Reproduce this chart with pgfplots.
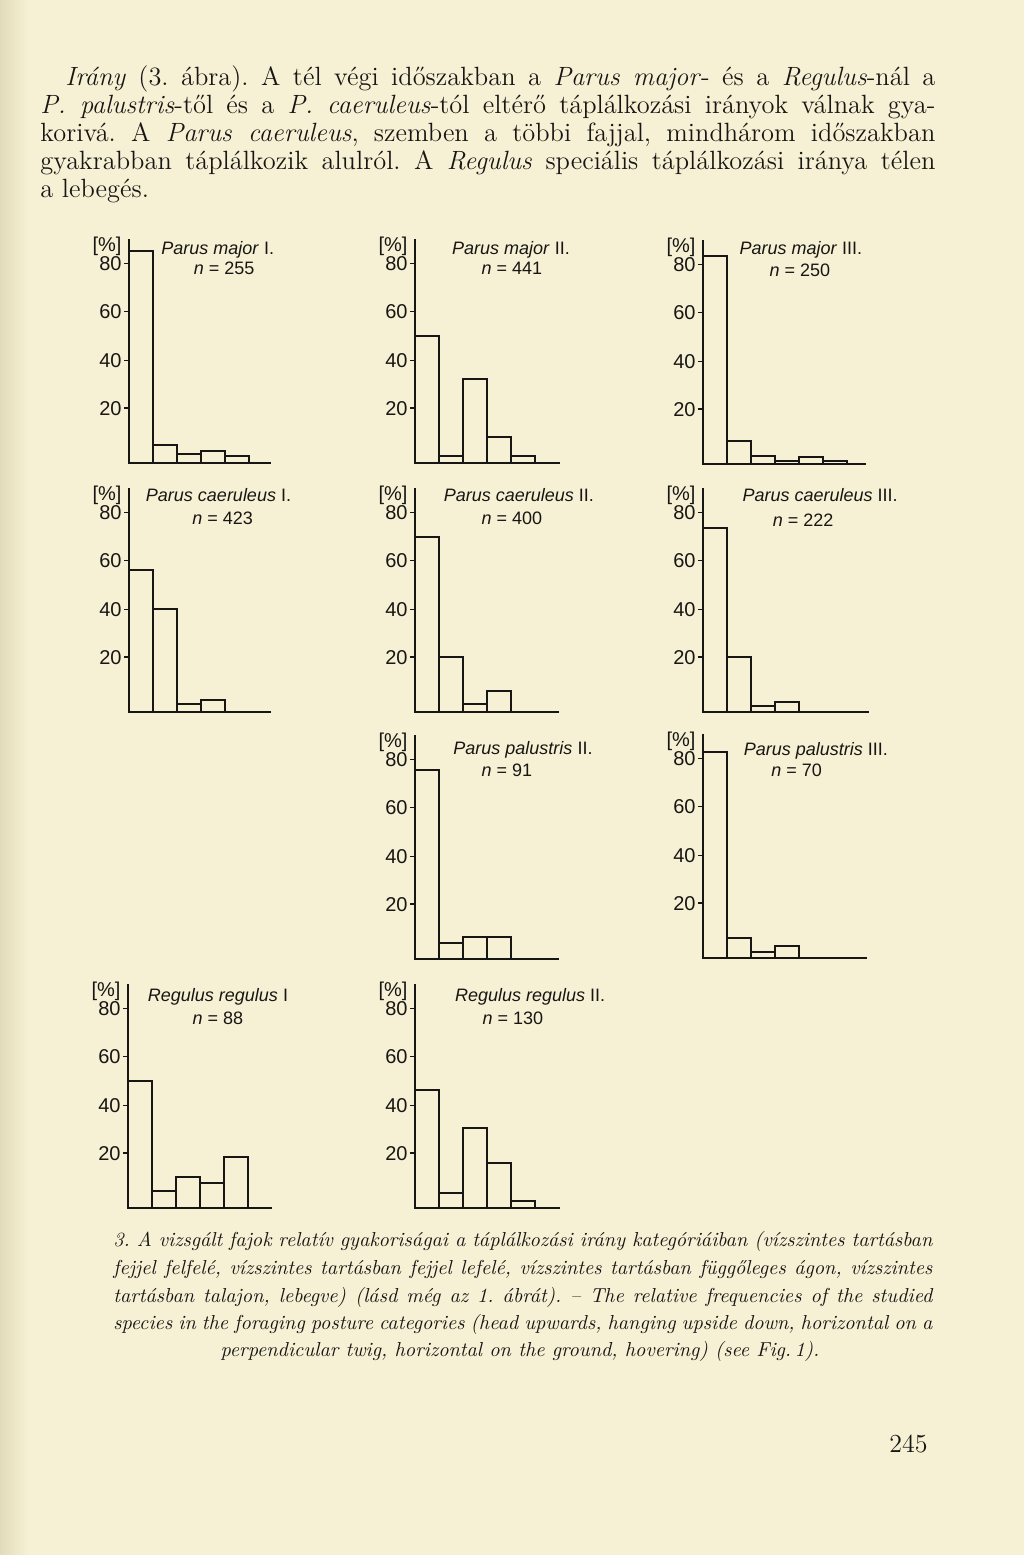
\documentclass[border=0pt]{standalone}
\usepackage{fontspec}
\usepackage{pgfplots}
\pgfplotsset{compat=1.18}
\newfontfamily\labfont{Liberation Sans}
\definecolor{paper}{RGB}{246,241,212}
\definecolor{paperdark}{RGB}{226,219,186}
\definecolor{ink}{RGB}{24,22,20}
\newcommand\lab{\labfont\fontsize{9}{10}\selectfont}
\newcommand\tlab{\labfont\fontsize{10}{11}\selectfont}
\newcommand\body{\fontsize{13.2}{15}\selectfont\addfontfeature{FakeBold=0.3}\frenchspacing}
\newcommand\capf{\fontsize{10.1}{12}\selectfont\itshape\addfontfeature{FakeBold=1.1}\frenchspacing}

\pgfplotsset{panel/.style={
  anchor=south west, x=12pt, y=1.1667pt,
  xmin=0, ymin=0, ymax=96,
  axis x line*=bottom, axis y line*=left,
  axis line style={line width=0.95pt, ink},
  xtick=\empty,
  ytick={23.5,44,65,85.5}, yticklabels={20,40,60,80},
  tick align=outside, major tick length=2.5pt,
  tick style={ink, line width=0.8pt},
  yticklabel style={font=\tlab, text=ink, inner sep=1pt},
  clip=false,
  ybar, bar width=1, bar shift=0pt,
},
bars/.style={draw=ink, fill=none, line width=0.95pt}}

\newcommand\jline[4]{\node[anchor=base west, inner sep=0, text=ink, font=#1] at (#2) {\makebox[#3][s]{#4}};}

\begin{document}
\begin{tikzpicture}
\useasboundingbox (0,0) rectangle (512pt,777.5pt);
\fill[paper] (0,0) rectangle (512pt,777.5pt);
\shade[left color=paperdark, right color=paper] (0,0) rectangle (14pt,777.5pt);

% paragraph
\jline{\body}{32.5pt,734.5pt}{435pt}{\textit{Irány} (3. ábra). A tél végi időszakban a \textit{Parus major}- és a \textit{Regulus}-nál a}
\jline{\body}{20pt,720.5pt}{447.5pt}{\textit{P. palustris}-től és a \textit{P. caeruleus}-tól eltérő táplálkozási irányok válnak gya-}
\jline{\body}{20pt,706.5pt}{447.5pt}{korivá. A \textit{Parus caeruleus}, szemben a többi fajjal, mindhárom időszakban}
\jline{\body}{20pt,692.5pt}{447.5pt}{gyakrabban táplálkozik alulról. A \textit{Regulus} speciális táplálkozási iránya télen}
\node[anchor=base west, inner sep=0, text=ink, font=\body] at (20pt,678.5pt) {a lebegés.};

% Row 1
\begin{axis}[panel, at={(64.5pt,546pt)}, xmax=5.93]
\addplot[bars] coordinates {(0.5,90.7) (1.5,7.6) (2.5,3.9) (3.5,5.0) (4.5,2.9)};
\node[font=\lab, text=ink] at (axis cs:3.7,91.3) {\textit{Parus major} I.};
\node[font=\lab, text=ink] at (axis cs:3.96,83.6) {\textit{n} = 255};
\node[font=\tlab, text=ink, anchor=north east, inner sep=0] at (axis cs:-0.3,97) {[\%]};
\end{axis}

\begin{axis}[panel, at={(207.5pt,546pt)}, xmax=6.04]
\addplot[bars] coordinates {(0.5,54.6) (1.5,3.1) (2.5,36.0) (3.5,11.3) (4.5,3.1)};
\node[font=\lab, text=ink] at (axis cs:4.0,91.3) {\textit{Parus major} II.};
\node[font=\lab, text=ink] at (axis cs:4.04,83.6) {\textit{n} = 441};
\node[font=\tlab, text=ink, anchor=north east, inner sep=0] at (axis cs:-0.3,97) {[\%]};
\end{axis}

\begin{axis}[panel, at={(351.5pt,545.5pt)}, xmax=6.8]
\addplot[bars] coordinates {(0.5,89.0) (1.5,9.7) (2.5,3.3) (3.5,1.4) (4.5,2.9) (5.5,1.4)};
\node[font=\lab, text=ink] at (axis cs:4.08,91.7) {\textit{Parus major} III.};
\node[font=\lab, text=ink] at (axis cs:4.04,82.9) {\textit{n} = 250};
\node[font=\tlab, text=ink, anchor=north east, inner sep=0] at (axis cs:-0.3,97) {[\%]};
\end{axis}

% Row 2
\begin{axis}[panel, at={(64.5pt,421.5pt)}, xmax=5.9]
\addplot[bars] coordinates {(0.5,61.0) (1.5,44.3) (2.5,3.4) (3.5,5.1)};
\node[font=\lab, text=ink] at (axis cs:3.73,93) {\textit{Parus caeruleus} I.};
\node[font=\lab, text=ink] at (axis cs:3.9,83) {\textit{n} = 423};
\node[font=\tlab, text=ink, anchor=north east, inner sep=0] at (axis cs:-0.3,97) {[\%]};
\end{axis}

\begin{axis}[panel, at={(207.5pt,421.5pt)}, xmax=6.0]
\addplot[bars] coordinates {(0.5,75.0) (1.5,23.6) (2.5,3.6) (3.5,8.9)};
\node[font=\lab, text=ink] at (axis cs:4.33,93) {\textit{Parus caeruleus} II.};
\node[font=\lab, text=ink] at (axis cs:4.04,83) {\textit{n} = 400};
\node[font=\tlab, text=ink, anchor=north east, inner sep=0] at (axis cs:-0.3,97) {[\%]};
\end{axis}

\begin{axis}[panel, at={(351.5pt,421.5pt)}, xmax=6.9]
\addplot[bars] coordinates {(0.5,78.9) (1.5,23.6) (2.5,2.6) (3.5,4.3)};
\node[font=\lab, text=ink] at (axis cs:4.88,93) {\textit{Parus caeruleus} III.};
\node[font=\lab, text=ink] at (axis cs:4.17,82) {\textit{n} = 222};
\node[font=\tlab, text=ink, anchor=north east, inner sep=0] at (axis cs:-0.3,97) {[\%]};
\end{axis}

% Row 3
\begin{axis}[panel, at={(207.5pt,298pt)}, xmax=6.0]
\addplot[bars] coordinates {(0.5,81.0) (1.5,6.7) (2.5,9.3) (3.5,9.3)};
\node[font=\lab, text=ink] at (axis cs:4.5,89.6) {\textit{Parus palustris} II.};
\node[font=\lab, text=ink] at (axis cs:3.83,81) {\textit{n} = 91};
\node[font=\tlab, text=ink, anchor=north east, inner sep=0] at (axis cs:-0.3,97) {[\%]};
\end{axis}

\begin{axis}[panel, at={(351.5pt,298.5pt)}, xmax=6.83]
\addplot[bars] coordinates {(0.5,88.1) (1.5,8.6) (2.5,2.4) (3.5,5.0)};
\node[font=\lab, text=ink] at (axis cs:4.7,88.8) {\textit{Parus palustris} III.};
\node[font=\lab, text=ink] at (axis cs:3.9,80.6) {\textit{n} = 70};
\node[font=\tlab, text=ink, anchor=north east, inner sep=0] at (axis cs:-0.3,97) {[\%]};
\end{axis}

% Row 4
\begin{axis}[panel, at={(64pt,173.5pt)}, xmax=6.0]
\addplot[bars] coordinates {(0.5,54.6) (1.5,7.4) (2.5,13.1) (3.5,10.7) (4.5,21.7)};
\node[font=\lab, text=ink] at (axis cs:3.75,90.6) {\textit{Regulus regulus} I};
\node[font=\lab, text=ink] at (axis cs:3.75,81.3) {\textit{n} = 88};
\node[font=\tlab, text=ink, anchor=north east, inner sep=0] at (axis cs:-0.3,97) {[\%]};
\end{axis}

\begin{axis}[panel, at={(207.5pt,173.5pt)}, xmax=6.04]
\addplot[bars] coordinates {(0.5,50.7) (1.5,6.4) (2.5,34.3) (3.5,19.3) (4.5,2.9)};
\node[font=\lab, text=ink] at (axis cs:4.8,90.6) {\textit{Regulus regulus} II.};
\node[font=\lab, text=ink] at (axis cs:4.08,81.3) {\textit{n} = 130};
\node[font=\tlab, text=ink, anchor=north east, inner sep=0] at (axis cs:-0.3,97) {[\%]};
\end{axis}

% caption
\jline{\capf}{56.5pt,154pt}{409.5pt}{3. A vizsgált fajok relatív gyakoriságai a táplálkozási irány kategóriáiban (vízszintes tartásban}
\jline{\capf}{56.5pt,140pt}{409.5pt}{fejjel felfelé, vízszintes tartásban fejjel lefelé, vízszintes tartásban függőleges ágon, vízszintes}
\jline{\capf}{56.5pt,126pt}{409.5pt}{tartásban talajon, lebegve) (lásd még az 1. ábrát). -- The relative frequencies of the studied}
\jline{\capf}{56.5pt,112.5pt}{409.5pt}{species in the foraging posture categories (head upwards, hanging upside down, horizontal on a}
\node[anchor=base, inner sep=0, text=ink, font=\capf] at (260pt,99pt) {perpendicular twig, horizontal on the ground, hovering) (see Fig.\,1).};

\node[anchor=base east, inner sep=0, text=ink, font=\fontsize{13}{15}\selectfont\addfontfeature{FakeBold=0.3}] at (464pt,51pt) {245};
\end{tikzpicture}
\end{document}
